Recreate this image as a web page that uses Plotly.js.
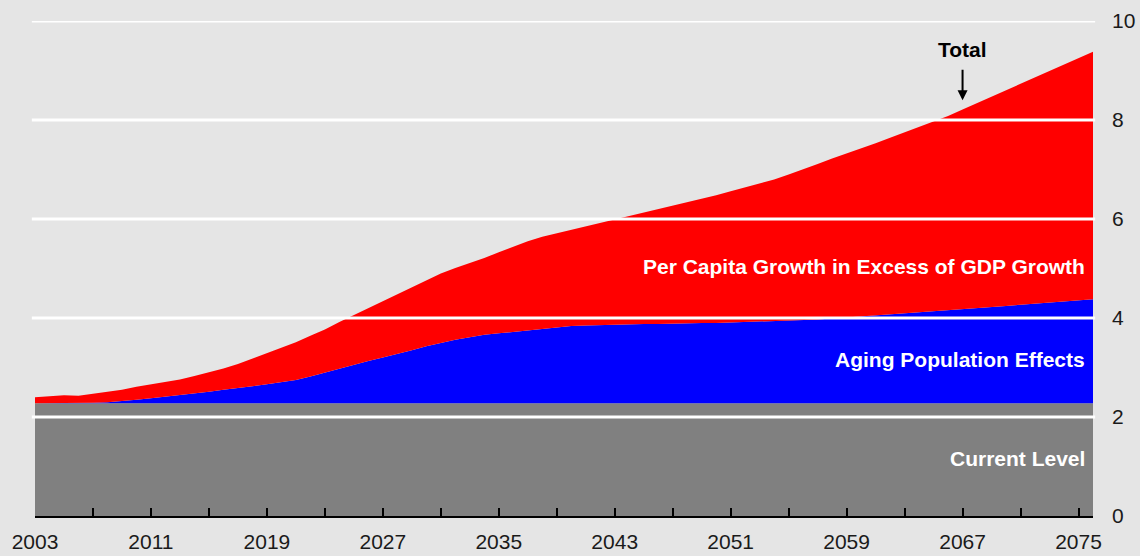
<!DOCTYPE html>
<html>
<head>
<meta charset="utf-8">
<script src="https://cdn.plot.ly/plotly-3.0.1.min.js"></script>
<style>
  html, body { margin: 0; padding: 0; background: #e5e5e5; }
  #chart { width: 1140px; height: 556px; }
</style>
</head>
<body>
<div id="chart"></div>
<script>
// ---- data ----
const years = [2003,2004,2005,2006,2007,2008,2009,2010,2011,2012,2013,2014,2015,2016,2017,2018,2019,2020,
  2021,2022,2023,2024,2025,2026,2027,2028,2029,2030,2031,2032,2033,2034,2035,2036,2037,2038,2039,2040,
  2041,2042,2043,2044,2045,2046,2047,2048,2049,2050,2051,2052,2053,2054,2055,2056,2057,2058,2059,2060,
  2061,2062,2063,2064,2065,2066,2067,2068,2069,2070,2071,2072,2073,2074,2075,2076];

const currentLevel = [2.28,2.28,2.28,2.28,2.28,2.28,2.28,2.28,2.28,2.28,2.28,2.28,2.28,2.28,2.28,2.28,2.28,2.28,
  2.28,2.28,2.28,2.28,2.28,2.28,2.28,2.28,2.28,2.28,2.28,2.28,2.28,2.28,2.28,2.28,2.28,2.28,2.28,2.28,
  2.28,2.28,2.28,2.28,2.28,2.28,2.28,2.28,2.28,2.28,2.28,2.28,2.28,2.28,2.28,2.28,2.28,2.28,2.28,2.28,
  2.28,2.28,2.28,2.28,2.28,2.28,2.28,2.28,2.28,2.28,2.28,2.28,2.28,2.28,2.28,2.28];

const agingEffects = [0,0,0,0,0.01,0.02,0.04,0.07,0.10,0.13,0.16,0.19,0.23,0.27,0.30,0.34,0.38,0.42,
  0.47,0.54,0.62,0.70,0.78,0.85,0.92,0.99,1.07,1.15,1.22,1.28,1.33,1.38,1.41,1.44,1.47,1.51,1.54,1.56,
  1.57,1.58,1.59,1.59,1.60,1.60,1.61,1.61,1.62,1.62,1.63,1.63,1.64,1.65,1.66,1.68,1.69,1.71,1.73,1.75,
  1.77,1.79,1.81,1.83,1.85,1.87,1.89,1.91,1.94,1.96,1.99,2.01,2.03,2.05,2.07,2.10];

const excessGrowth = [0.12,0.14,0.16,0.15,0.18,0.20,0.23,0.26,0.28,0.30,0.32,0.36,0.39,0.43,0.49,0.56,0.62,0.69,
  0.76,0.82,0.87,0.94,1.00,1.07,1.14,1.21,1.27,1.33,1.40,1.45,1.50,1.55,1.64,1.72,1.80,1.85,1.89,1.94,
  2.00,2.05,2.11,2.19,2.25,2.31,2.37,2.44,2.50,2.58,2.65,2.73,2.80,2.87,2.96,3.04,3.14,3.23,3.31,3.39,
  3.48,3.57,3.66,3.75,3.84,3.93,4.04,4.15,4.25,4.36,4.46,4.57,4.68,4.79,4.90,5.00];

const xTickVals = [2003,2007,2011,2015,2019,2023,2027,2031,2035,2039,2043,2047,2051,2055,2059,2063,2067,2071,2075];
const xTickText = ['2003','','2011','','2019','','2027','','2035','','2043','','2051','','2059','','2067','','2075'];
const yTickVals = [0,2,4,6,8,10];
const gridValues = [2,4,6,8,10];

const seriesNames = ['Current Level','Aging Population Effects','Per Capita Growth in Excess of GDP Growth'];
const seriesColors = ['#808080','#0000ff','#ff0000'];
const seriesData = [currentLevel, agingEffects, excessGrowth];

// ---- traces ----
const traces = seriesData.map((vals, i) => ({
  type: 'scatter',
  mode: 'lines',
  x: years,
  y: vals,
  name: seriesNames[i],
  stackgroup: 'one',
  line: {width: 0, color: seriesColors[i]},
  fillcolor: seriesColors[i],
  hoverinfo: 'skip'
}));

const FONT = 'Liberation Sans, Arial, Helvetica, sans-serif';

const shapes = gridValues.map(v => ({
  type: 'line', layer: 'above',
  xref: 'paper', yref: 'y',
  x0: -0.003, x1: 1.002, y0: v, y1: v,
  line: {color: '#ffffff', width: 3}
}));

const annotations = [
  {xref: 'paper', yref: 'y', x: 0.994, y: 5.05, xanchor: 'right', yanchor: 'middle', showarrow: false,
   text: '<b>Per Capita Growth in Excess of GDP Growth</b>', font: {family: FONT, size: 21, color: '#ffffff'}},
  {xref: 'paper', yref: 'y', x: 0.994, y: 3.17, xanchor: 'right', yanchor: 'middle', showarrow: false,
   text: '<b>Aging Population Effects</b>', font: {family: FONT, size: 21, color: '#ffffff'}},
  {xref: 'paper', yref: 'y', x: 0.994, y: 1.17, xanchor: 'right', yanchor: 'middle', showarrow: false,
   text: '<b>Current Level</b>', font: {family: FONT, size: 21, color: '#ffffff'}},
  {xref: 'x', yref: 'y', x: 2067.0, y: 9.43, xanchor: 'center', yanchor: 'middle', showarrow: false,
   text: '<b>Total</b>', font: {family: FONT, size: 21, color: '#000000'}},
  {xref: 'x', yref: 'y', x: 2067.0, y: 8.40, text: '', showarrow: true,
   arrowhead: 2, arrowsize: 1, arrowwidth: 2, arrowcolor: '#000000', ax: 0, ay: -32}
];

const layout = {
  width: 1140, height: 556,
  margin: {l: 35, r: 47, t: 21, b: 40, pad: 0},
  paper_bgcolor: '#e5e5e5',
  plot_bgcolor: '#e5e5e5',
  showlegend: false,
  font: {family: FONT, size: 21, color: '#1a1a1a'},
  xaxis: {
    range: [2003, 2076],
    tickmode: 'array', tickvals: xTickVals, ticktext: xTickText,
    ticks: 'inside', ticklen: 8, tickwidth: 2, tickcolor: '#000000',
    showline: true, linecolor: '#000000', linewidth: 2,
    showgrid: false, zeroline: false,
    ticklabelstandoff: 6,
    tickfont: {family: FONT, size: 21, color: '#1a1a1a'},
    fixedrange: true
  },
  yaxis: {
    side: 'right',
    range: [0, 10],
    tickmode: 'array', tickvals: yTickVals,
    ticks: '', showline: false, showgrid: false, zeroline: false,
    ticklabelstandoff: 18,
    tickfont: {family: FONT, size: 21, color: '#1a1a1a'},
    fixedrange: true
  },
  shapes: shapes,
  annotations: annotations
};

Plotly.newPlot('chart', traces, layout, {staticPlot: true, displayModeBar: false});
</script>
</body>
</html>
